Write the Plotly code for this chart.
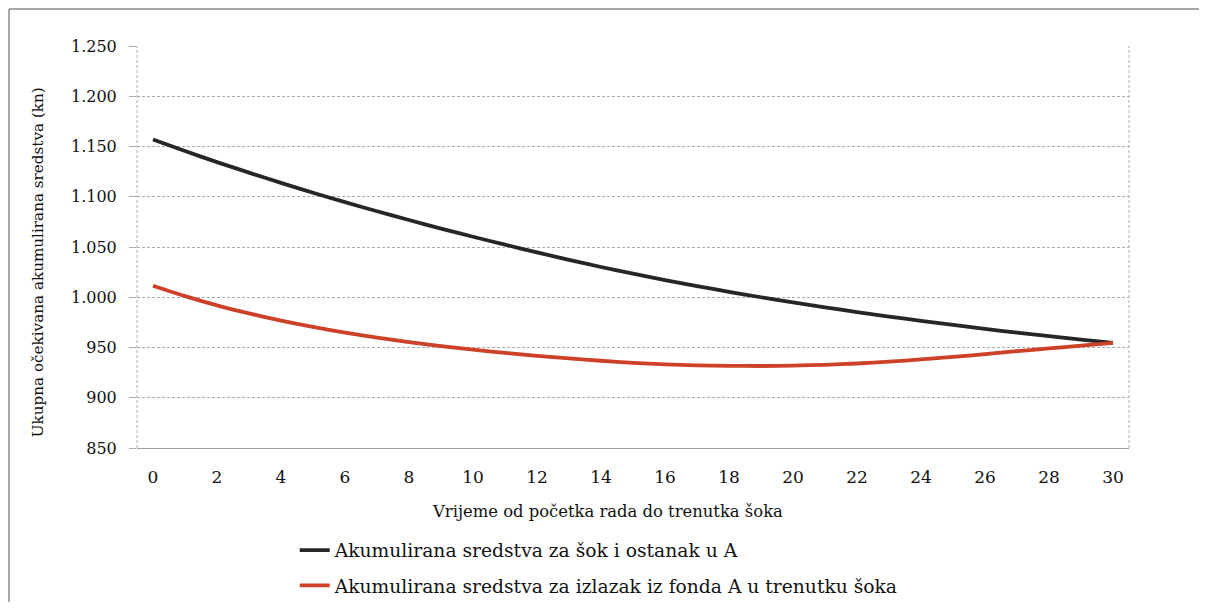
import plotly.graph_objects as go

years = list(range(0, 31))
ostanak_u_A = [1157, 1145.5, 1134.5, 1124, 1113.8, 1104, 1094.6, 1085.6, 1076.9, 1068.3,
               1060.2, 1052.3, 1044.6, 1037.2, 1030.1, 1023.4, 1017.1, 1011.1, 1005.4, 1000.0,
               994.9, 990.0, 985.3, 980.8, 976.5, 972.4, 968.5, 964.8, 961.3, 957.9, 954.6]
izlazak_iz_A = [1011.5, 1001.1, 991.9, 983.9, 976.8, 970.5, 964.9, 959.9, 955.4, 951.4,
                947.8, 944.6, 941.7, 939.1, 936.8, 934.8, 933.2, 932.2, 931.7, 931.6,
                932.0, 932.8, 934.1, 935.9, 938.1, 940.6, 943.4, 946.3, 949.1, 951.8, 954.5]
series_names = ["Akumulirana sredstva za šok i ostanak u A",
                "Akumulirana sredstva za izlazak iz fonda A u trenutku šoka"]
x_ticks = list(range(0, 31, 2))
y_ticks = [850, 900, 950, 1000, 1050, 1100, 1150, 1200, 1250]

FONT = "DejaVu Serif"
GRID = "#ababab"
TXT = "#111111"

fig = go.Figure()
fig.add_trace(go.Scatter(x=years, y=ostanak_u_A, mode="lines", name=series_names[0],
                         legendgroup="a",
                         line=dict(color="#262626", width=3.8, shape="spline", smoothing=0.6)))
fig.add_trace(go.Scatter(x=years, y=izlazak_iz_A, mode="lines", name=series_names[1],
                         legendgroup="b",
                         line=dict(color="#cc4128", width=3.8, shape="spline", smoothing=0.6)))

fig.update_layout(
    width=1191, height=594,
    margin=dict(l=129, r=70, t=38, b=154, autoexpand=False),
    paper_bgcolor="white", plot_bgcolor="white",
    separators=",.",
    font=dict(family=FONT, color=TXT),
    showlegend=True,
    legend=dict(x=0.159, y=-0.2077, xanchor="left", yanchor="top",
                orientation="v", font=dict(size=18.7, family=FONT, color=TXT),
                itemwidth=30, tracegroupgap=8, bgcolor="rgba(0,0,0,0)"),
)
fig.update_xaxes(
    range=[-0.5, 30.5], tickvals=x_ticks, ticktext=[str(v) for v in x_ticks],
    showgrid=False, zeroline=False,
    showline=True, linecolor="#a0a0a0", linewidth=1,
    ticks="", ticklabelstandoff=14,
    tickfont=dict(size=17, family=FONT, color=TXT),
)
fig.update_yaxes(
    range=[850, 1250], tickvals=y_ticks, tickformat=",d",
    showgrid=True, gridcolor=GRID, griddash="3px,2px", gridwidth=1,
    zeroline=False, showline=False,
    ticks="outside", ticklen=7, tickcolor=GRID,
    ticklabelstandoff=9,
    tickfont=dict(size=16, family=FONT, color=TXT),
)

# dashed plot-area sides
for xv in (0, 1):
    fig.add_shape(type="line", xref="paper", yref="paper", x0=xv, x1=xv, y0=0, y1=1,
                  line=dict(color=GRID, width=1, dash="3px,2px"))
# outer chart border: top and left edges only (the rest lies beyond the window)
fig.add_shape(type="line", xref="paper", yref="paper",
              x0=-0.129, x1=1.2, y0=1.092, y1=1.092,
              line=dict(color="#8a8a8a", width=1.5))
fig.add_shape(type="line", xref="paper", yref="paper",
              x0=-0.129, x1=-0.129, y0=-0.45, y1=1.092,
              line=dict(color="#8a8a8a", width=1.5))

fig.add_annotation(text="Vrijeme od početka rada do trenutka šoka", xref="paper", yref="paper",
                   x=0.474, y=-0.157, showarrow=False, xanchor="center", yanchor="middle",
                   font=dict(size=16.4, family=FONT, color=TXT))
fig.add_annotation(text="Ukupna očekivana akumulirana sredstva (kn)", xref="paper", yref="paper",
                   x=-0.0998, y=0.462, showarrow=False, textangle=-90,
                   xanchor="center", yanchor="middle",
                   font=dict(size=15.2, family=FONT, color=TXT))

fig.write_html("out.html")
